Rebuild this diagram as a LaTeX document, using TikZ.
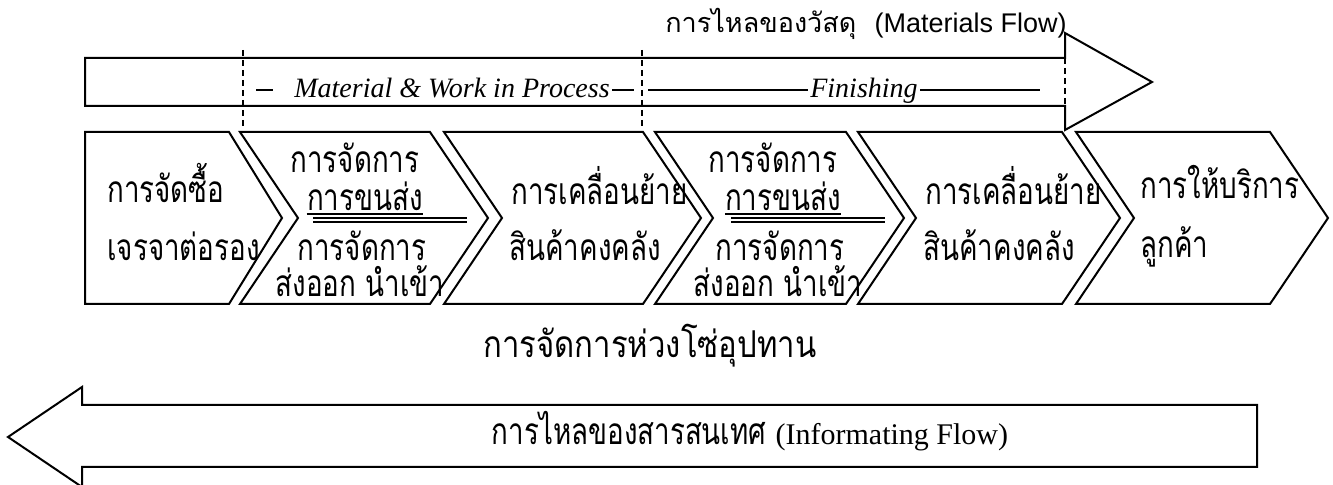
\documentclass[tikz,border=0pt]{standalone}
\usepackage{fontspec}
\setmainfont{Liberation Serif}
\newfontfamily\thai[Script=Thai,FakeStretch=0.75]{Loma}
\newfontfamily\thaic[Script=Thai,FakeStretch=0.84]{Loma}
\newfontfamily\thaiw[Script=Thai]{Loma}
\newfontfamily\arialf{Liberation Sans}
\usetikzlibrary{calc}
\tikzset{
  shapeline/.style={draw=black,line width=1pt,line join=miter},
  guide/.style={draw=black,line width=0.8pt,dash pattern=on 3pt off 2pt},
  rule/.style={draw=black,line width=0.8pt},
  th/.style={inner sep=0pt,font=\thai\fontsize{18.5}{21}\selectfont},
  thc/.style={inner sep=0pt,font=\thaic\fontsize{18.5}{21}\selectfont},
  lab/.style={inner sep=0pt,font=\fontsize{14}{16}\selectfont\itshape},
}
\begin{document}
\begin{tikzpicture}[x=0.5pt,y=-0.5pt]
\useasboundingbox (0,0) rectangle (1333,485);
% top arrow (materials flow)
\draw[shapeline] (85,58) -- (1065,58) -- (1065,33) -- (1152,82) -- (1065,130) -- (1065,106) -- (85,106) -- cycle;
\draw[guide] (243,50) -- (243,128);
\draw[guide] (642,50) -- (642,128);
\draw[guide] (1065,58) -- (1065,128);
\node[inner sep=0pt,anchor=base west] (mflow) at (665,33)
  {\thaiw\fontsize{13.5}{16}\selectfont การไหลของวัสดุ\ \ \arialf (Materials Flow)};
\node[lab,anchor=base] (mwip) at (452,98) {Material \& Work in Process};
\node[lab,anchor=base] (fin) at (864,98) {Finishing};
\draw[rule] (256,90) -- (273,90);
\draw[rule] (612,90) -- (634,90);
\draw[rule] (648,90) -- ($(fin.base west)+(-2,-8)$);
\draw[rule] ($(fin.base east)+(2,-8)$) -- (1040,90);
% chevrons
\draw[shapeline] (85,132) -- (229,132) -- (282,218) -- (229,304) -- (85,304) -- cycle;
\foreach \a/\b in {240/430, 444/643, 655/846, 858/1062, 1076/1270}
  \draw[shapeline] (\a,132) -- (\b,132) -- ({\b+58},218) -- (\b,304) -- (\a,304) -- ({\a+58},218) -- cycle;
% shape 1
\node[th,anchor=base west] (s1a) at (107,203) {การจัดซื้อ};
\node[th,anchor=base west] (s1b) at (107,261) {เจรจาต่อรอง};
% shape 2
\node[th,anchor=base] (s2a) at (355,173) {การจัดการ};
\node[th,anchor=base] (s2b) at (365,211) {การขนส่ง};
\draw[rule] ($(s2b.base west)+(0,3)$) -- ($(s2b.base east)+(0,3)$);
\draw[rule] (313,218) -- (467,218);
\draw[rule] (313,222) -- (467,222);
\node[th,anchor=base] (s2c) at (362,261) {การจัดการ};
\node[th,anchor=base] (s2d) at (360,297) {ส่งออก นำเข้า};
% shape 3
\node[th,anchor=base west] (s3a) at (511,205) {การเคลื่อนย้าย};
\node[th,anchor=base west] (s3b) at (509,261) {สินค้าคงคลัง};
% shape 4
\node[th,anchor=base] (s4a) at (773,173) {การจัดการ};
\node[th,anchor=base] (s4b) at (783,211) {การขนส่ง};
\draw[rule] ($(s4b.base west)+(0,3)$) -- ($(s4b.base east)+(0,3)$);
\draw[rule] (731,218) -- (885,218);
\draw[rule] (731,222) -- (885,222);
\node[th,anchor=base] (s4c) at (780,261) {การจัดการ};
\node[th,anchor=base] (s4d) at (778,297) {ส่งออก นำเข้า};
% shape 5
\node[th,anchor=base west] (s5a) at (925,205) {การเคลื่อนย้าย};
\node[th,anchor=base west] (s5b) at (923,261) {สินค้าคงคลัง};
% shape 6
\node[th,anchor=base west] (s6a) at (1140,199) {การให้บริการ};
\node[th,anchor=base west] (s6b) at (1140,258) {ลูกค้า};
% caption
\node[thc,anchor=base] (scm) at (650,358) {การจัดการห่วงโซ่อุปทาน};
% bottom arrow (information flow)
\draw[shapeline] (1257,405) -- (82,405) -- (82,387) -- (8,437) -- (82,487) -- (82,467) -- (1257,467) -- cycle;
\node[th,anchor=base] (iflow) at (750,445) {การไหลของสารสนเทศ \rmfamily\fontsize{15}{18}\selectfont(Informating Flow)};
\end{tikzpicture}
\end{document}
